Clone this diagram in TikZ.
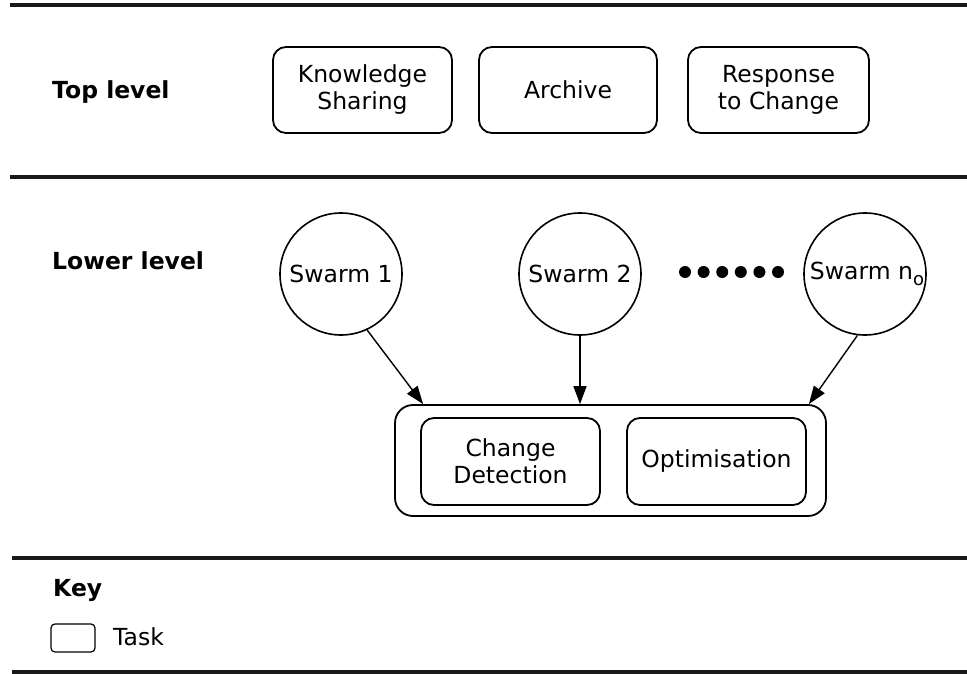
\documentclass[tikz,border=0pt]{standalone}
\usepackage{fontspec}
\setmainfont{DejaVu Sans}
\usetikzlibrary{arrows.meta}
\begin{document}
\begin{tikzpicture}[x=1pt,y=-1pt,
  every node/.style={font=\fontsize{23.5}{27}\selectfont, align=center},
  task/.style={draw, line width=1.8pt, rounded corners=13pt, inner sep=0pt},
  outerbox/.style={draw, line width=1.8pt, rounded corners=18pt, inner sep=0pt},
  swarm/.style={draw, circle, line width=1.6pt, minimum size=122pt, inner sep=0pt},
  sep/.style={line width=3.2pt, draw=black!90},
  lvl/.style={anchor=west, inner sep=0pt, font=\fontsize{23.5}{27}\selectfont\bfseries},
  arr/.style={line width=1.4pt, -{Triangle[length=18pt,width=13pt]}},
  dot/.style={fill, circle, minimum size=12pt, inner sep=0pt}
]
\useasboundingbox (0,0) rectangle (967,674);
% separators
\coordinate (l1a) at (10,5);   \coordinate (l1b) at (967,5);
\coordinate (l2a) at (10,177); \coordinate (l2b) at (967,177);
\coordinate (l3a) at (12,558); \coordinate (l3b) at (967,558);
\coordinate (l4a) at (12,672); \coordinate (l4b) at (967,672);
\draw[sep] (l1a) -- (l1b);
\draw[sep] (l2a) -- (l2b);
\draw[sep] (l3a) -- (l3b);
\draw[sep] (l4a) -- (l4b);

% top level
\node[lvl] (top) at (52,92) {Top level};
\node[task, minimum width=179pt, minimum height=86pt] (ks) at (362.5,90) {Knowledge\\Sharing};
\node[task, minimum width=178pt, minimum height=86pt] (ar) at (568,90) {Archive};
\node[task, minimum width=181pt, minimum height=86pt] (rc) at (778.5,90) {Response\\to Change};

% lower level
\node[lvl] (low) at (52,261) {Lower level};
\node[swarm] (s1) at (341,274) {Swarm 1};
\node[swarm] (s2) at (580,274) {Swarm 2};
\node[swarm] (sn) at (865,274) {\hspace*{4pt}Swarm n\raisebox{-0.5ex}{\fontsize{18}{18}\selectfont o}};
\foreach \i in {0,...,5} {
  \node[dot] (d\i) at (685+18.6*\i,272) {};
}

\node[outerbox, minimum width=431pt, minimum height=111pt] (outer) at (610.5,460.5) {};
\node[task, minimum width=179pt, minimum height=87pt] (cd) at (510.5,461.5) {Change\\Detection};
\node[task, minimum width=179pt, minimum height=87pt] (op) at (716.5,461.5) {Optimisation};

\draw[arr] (s1.-65) -- ([xshift=29pt]outer.north west);
\draw[arr] (s2.south) -- (s2.south |- outer.north);
\draw[arr] (sn.-97) -- ([xshift=-18pt]outer.north east);

% key
\node[lvl] (key) at (53,590) {Key};
\node[draw, line width=1.2pt, rounded corners=4pt, minimum width=44pt, minimum height=28pt, inner sep=0pt] (kbox) at (73,638) {};
\node[anchor=west, inner sep=0pt] (ktext) at (113,637) {Task};
\end{tikzpicture}
\end{document}
